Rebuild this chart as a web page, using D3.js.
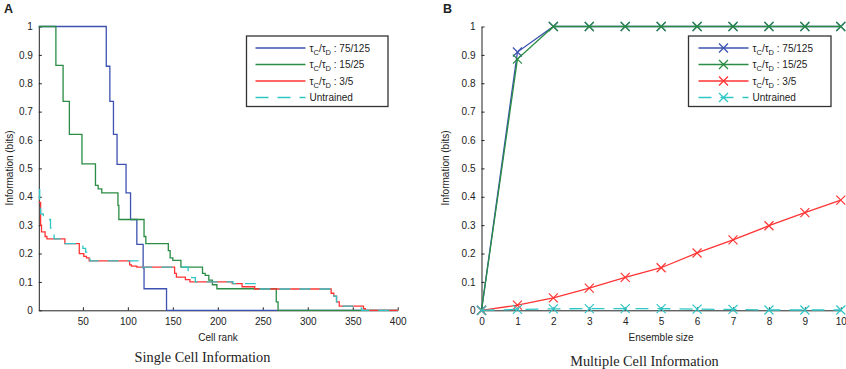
<!DOCTYPE html>
<html><head><meta charset="utf-8">
<script src="https://cdn.jsdelivr.net/npm/d3@7"></script>
<style>
body{margin:0;background:#fff}
svg{display:block}
text{font-family:"Liberation Sans",Arial,Helvetica,sans-serif;fill:#222}
</style>
</head><body>
<svg id="c" width="846" height="369"></svg>
<script>
// ---------- DATA ----------
// Panel A: single cell information, step breakpoints [cell rank, information (bits)]
const singleBlue = [[1,1],[76,0.86],[80,0.736],[84,0.62],[88,0.514],[98,0.414],[103,0.32],[110,0.232],[117,0.15],[118,0.076],[143,0],[400,0]];
const singleGreen = [[1,1],[20,0.863],[28,0.736],[35,0.62],[49,0.516],[64,0.44],[67,0.428],[71,0.414],[89,0.37],[90,0.32],[118,0.26],[120,0.235],[145,0.21],[147,0.185],[150,0.176],[159,0.152],[183,0.13],[186,0.123],[190,0.106],[194,0.09],[199,0.076],[265,0.03],[267,0],[400,0]];
const singleRed = [[1,0.38],[3,0.3],[4,0.276],[8,0.26],[10,0.252],[30,0.235],[46,0.2],[51,0.19],[54,0.185],[57,0.174],[102,0.16],[104,0.156],[110,0.152],[152,0.13],[154,0.117],[164,0.108],[169,0.1],[216,0.094],[227,0.083],[241,0.075],[326,0.06],[329,0.05],[332,0.03],[335,0.015],[362,0.006],[364,0],[400,0]];
const singleCyan = [[1,0.425],[2,0.36],[3,0.34],[6,0.33],[10,0.32],[14,0.29],[16,0.27],[18,0.252],[30,0.235],[50,0.218],[53,0.205],[56,0.19],[58,0.174],[114,0.152],[167,0.123],[171,0.115],[175,0.1],[217,0.094],[243,0.082],[245,0.075],[326,0.06],[329,0.05],[332,0.03],[335,0.015],[357,0.008],[360,0],[400,0]];
const rankTicks = [50,100,150,200,250,300,350,400];

// Panel B: multiple cell information vs ensemble size
const ensembleSize = [0,1,2,3,4,5,6,7,8,9,10];
const ensBlue  = [0,0.91,1,1,1,1,1,1,1,1,1];
const ensGreen = [0,0.885,1,1,1,1,1,1,1,1,1];
const ensRed   = [0,0.018,0.044,0.078,0.116,0.15,0.202,0.248,0.298,0.344,0.388];
const ensCyan  = [0,0.003,0.005,0.006,0.006,0.006,0.004,0.003,0.001,0.001,0.001];

const infoTicks = [0,0.1,0.2,0.3,0.4,0.5,0.6,0.7,0.8,0.9,1];
const seriesNames = [["75/125"],["15/25"],["3/5"],["Untrained"]];
const colors = ["#3d52b0","#2a8c45","#ff3535","#30c6c6"];

// ---------- DRAW ----------
const svg = d3.select("#c");
const yTop = 26.5, yBot = 310.3;

function leftAxis(g, y){
  g.call(d3.axisLeft(y).tickValues(infoTicks).tickFormat(d=>String(+d.toFixed(1))).tickSize(-3).tickPadding(6).tickSizeOuter(0));
  g.selectAll("text").style("font-size","10px");
  g.selectAll("path,line").attr("stroke","#222");
}
function bottomAxis(g, x, ticks){
  g.call(d3.axisBottom(x).tickValues(ticks).tickSize(-3).tickPadding(8).tickSizeOuter(0));
  g.selectAll("text").style("font-size","10px");
  g.selectAll("path,line").attr("stroke","#222");
}

function legend(x0, y0, w, h, withMarkers){
  const g = svg.append("g");
  g.append("rect").attr("x",x0).attr("y",y0).attr("width",w).attr("height",h)
    .attr("fill","#fff").attr("stroke","#333").attr("stroke-width",1.3);
  seriesNames.forEach((nm,i)=>{
    const yy = y0 + 12 + i*16.5;
    const lx0 = x0 + (withMarkers?10:9), lx1 = lx0 + (withMarkers?50:50);
    g.append("line").attr("x1",lx0).attr("x2",lx1).attr("y1",yy).attr("y2",yy)
      .attr("stroke",colors[i]).attr("stroke-width",1.5)
      .attr("stroke-dasharray", i===3 ? "13,9" : null);
    if(withMarkers){
      const cx=(lx0+lx1)/2;
      g.append("path").attr("d",`M${cx-4.5},${yy-4.5}L${cx+4.5},${yy+4.5}M${cx-4.5},${yy+4.5}L${cx+4.5},${yy-4.5}`)
        .attr("stroke",colors[i]).attr("stroke-width",1.3).attr("fill","none");
    }
    const t = g.append("text").attr("x",lx1+4).attr("y",yy+3.5).style("font-size","10px");
    if(i<3){
      t.append("tspan").text("τ");
      t.append("tspan").attr("dy",3).style("font-size","7.5px").text("C");
      t.append("tspan").attr("dy",-3).text("/τ");
      t.append("tspan").attr("dy",3).style("font-size","7.5px").text("D");
      t.append("tspan").attr("dy",-3).text(" : "+nm[0]);
    } else {
      t.text(nm[0]);
    }
  });
}

// ===== Panel A =====
const xA = d3.scaleLinear().domain([1,400]).range([38.8,397.7]);
const yA = d3.scaleLinear().domain([0,1]).range([yBot,yTop]);
svg.append("g").attr("transform",`translate(${xA.range()[0]},0)`).call(g=>leftAxis(g,yA));
svg.append("g").attr("transform",`translate(0,${yBot})`).call(g=>bottomAxis(g,xA,rankTicks));

const stepLine = d3.line().x(d=>xA(d[0])).y(d=>yA(d[1])).curve(d3.curveStepAfter);
[singleBlue,singleGreen,singleRed,singleCyan].forEach((s,i)=>{
  svg.append("path").attr("d",stepLine(s)).attr("fill","none")
    .attr("stroke",colors[i]).attr("stroke-width",1.3)
    .attr("stroke-dasharray", i===3 ? "11,9" : null);
});
legend(246.5, 36, 141.5, 70.5, false);

svg.append("text").attr("x",4).attr("y",12.5).style("font-size","12.5px").style("font-weight","bold").text("A");
svg.append("text").attr("transform","translate(13,168) rotate(-90)").attr("text-anchor","middle").style("font-size","10px").text("Information (bits)");
svg.append("text").attr("x",218).attr("y",341).attr("text-anchor","middle").style("font-size","10px").text("Cell rank");
svg.append("text").attr("x",202.5).attr("y",362).attr("text-anchor","middle")
  .style("font-family","'Liberation Serif','Times New Roman',serif").style("font-size","14.3px").text("Single Cell Information");

// ===== Panel B =====
const xB = d3.scaleLinear().domain([0,10]).range([481.5,840.8]);
const yB = d3.scaleLinear().domain([0,1]).range([yBot,yTop]);
svg.append("g").attr("transform",`translate(${xB.range()[0]},0)`).call(g=>leftAxis(g,yB));
svg.append("g").attr("transform",`translate(0,${yBot})`).call(g=>bottomAxis(g,xB,ensembleSize));

const lineB = d3.line().x((d,i)=>xB(ensembleSize[i])).y(d=>yB(d));
[ensBlue,ensGreen,ensRed,ensCyan].forEach((s,i)=>{
  const g = svg.append("g");
  g.append("path").attr("d",lineB(s)).attr("fill","none")
    .attr("stroke",colors[i]).attr("stroke-width",1.3)
    .attr("stroke-dasharray", i===3 ? "13,9" : null);
  g.selectAll("path.m").data(s).join("path").attr("class","m")
    .attr("d",(d,j)=>{const cx=xB(ensembleSize[j]), cy=yB(d); return `M${cx-4.5},${cy-4.5}L${cx+4.5},${cy+4.5}M${cx-4.5},${cy+4.5}L${cx+4.5},${cy-4.5}`;})
    .attr("stroke",colors[i]).attr("stroke-width",1.2).attr("fill","none");
});
legend(688.5, 36, 142.5, 70.5, true);

svg.append("text").attr("x",443).attr("y",12.5).style("font-size","12.5px").style("font-weight","bold").text("B");
svg.append("text").attr("transform","translate(449,168) rotate(-90)").attr("text-anchor","middle").style("font-size","10px").text("Information (bits)");
svg.append("text").attr("x",661).attr("y",341).attr("text-anchor","middle").style("font-size","10px").text("Ensemble size");
svg.append("text").attr("x",644.5).attr("y",366).attr("text-anchor","middle")
  .style("font-family","'Liberation Serif','Times New Roman',serif").style("font-size","14.3px").text("Multiple Cell Information");
</script>
</body></html>
